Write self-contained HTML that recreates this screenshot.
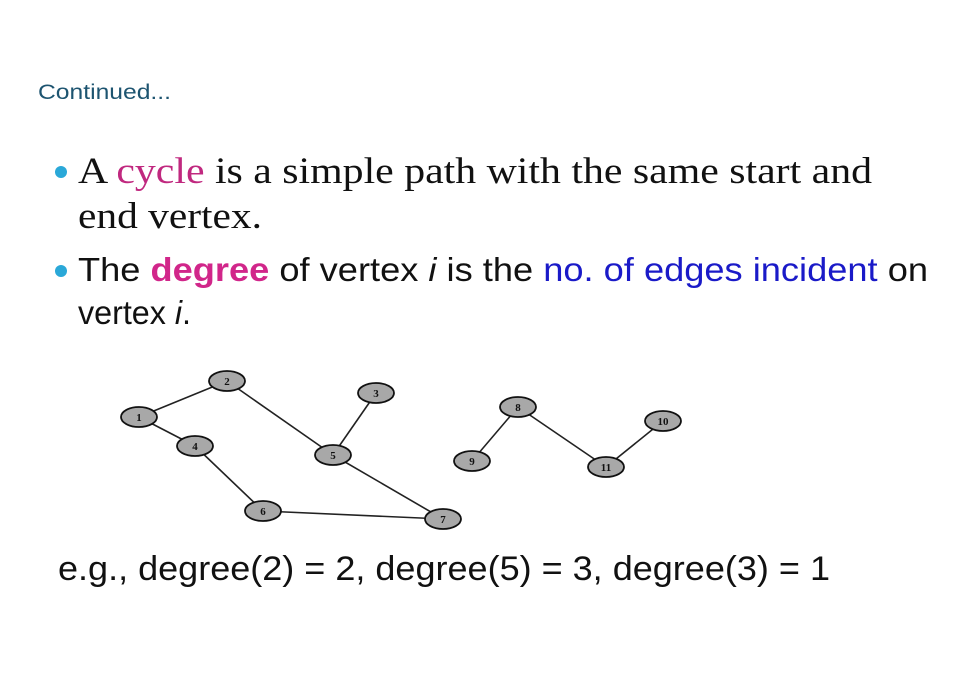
<!DOCTYPE html>
<html><head><meta charset="utf-8"><style>
html,body{margin:0;padding:0;background:#fff;}
svg{display:block}
</style></head><body>
<svg width="958" height="683" viewBox="0 0 958 683" xmlns="http://www.w3.org/2000/svg">
<rect width="958" height="683" fill="#fff"/>
<text x="38" y="99" font-family="Liberation Sans, sans-serif" font-size="21" fill="#1d5470" textLength="133" lengthAdjust="spacingAndGlyphs">Continued...</text>
<circle cx="61" cy="172" r="6" fill="#2aa8d8"/>
<circle cx="61" cy="271" r="6" fill="#2aa8d8"/>
<text x="78" y="183" font-family="Liberation Serif, serif" font-size="37" fill="#111" textLength="794" lengthAdjust="spacingAndGlyphs">A <tspan fill="#c0287f">cycle</tspan> is a simple path with the same start and</text>
<text x="78" y="228" font-family="Liberation Serif, serif" font-size="37" fill="#111" textLength="184" lengthAdjust="spacingAndGlyphs">end vertex.</text>
<text x="78" y="281" font-family="Liberation Sans, sans-serif" font-size="33" fill="#111" textLength="850" lengthAdjust="spacingAndGlyphs">The <tspan fill="#d1268a" font-weight="bold">degree</tspan> of vertex <tspan font-style="italic">i</tspan> is the <tspan fill="#1a1ac8">no. of edges incident</tspan> on</text>
<text x="78" y="324" font-family="Liberation Sans, sans-serif" font-size="33" fill="#111" textLength="113" lengthAdjust="spacingAndGlyphs">vertex <tspan font-style="italic">i</tspan>.</text>
<g stroke="#222" stroke-width="1.6">
<line x1="139" y1="417" x2="227" y2="381"/>
<line x1="139" y1="417" x2="195" y2="446"/>
<line x1="227" y1="381" x2="333" y2="455"/>
<line x1="376" y1="393" x2="333" y2="455"/>
<line x1="195" y1="446" x2="263" y2="511"/>
<line x1="333" y1="455" x2="443" y2="519"/>
<line x1="263" y1="511" x2="443" y2="519"/>
<line x1="518" y1="407" x2="472" y2="461"/>
<line x1="518" y1="407" x2="606" y2="467"/>
<line x1="663" y1="421" x2="606" y2="467"/>
</g>
<g fill="#a8a8a8" stroke="#111" stroke-width="1.8">
<ellipse cx="139" cy="417" rx="18" ry="10"/>
<ellipse cx="227" cy="381" rx="18" ry="10"/>
<ellipse cx="376" cy="393" rx="18" ry="10"/>
<ellipse cx="195" cy="446" rx="18" ry="10"/>
<ellipse cx="333" cy="455" rx="18" ry="10"/>
<ellipse cx="263" cy="511" rx="18" ry="10"/>
<ellipse cx="443" cy="519" rx="18" ry="10"/>
<ellipse cx="518" cy="407" rx="18" ry="10"/>
<ellipse cx="472" cy="461" rx="18" ry="10"/>
<ellipse cx="663" cy="421" rx="18" ry="10"/>
<ellipse cx="606" cy="467" rx="18" ry="10"/>
</g>
<g font-family="Liberation Serif, serif" font-size="11" font-weight="bold" fill="#111" text-anchor="middle">
<text x="139" y="421">1</text><text x="227" y="385">2</text><text x="376" y="397">3</text>
<text x="195" y="450">4</text><text x="333" y="459">5</text><text x="263" y="515">6</text>
<text x="443" y="523">7</text><text x="518" y="411">8</text><text x="472" y="465">9</text>
<text x="663" y="425">10</text><text x="606" y="471">11</text>
</g>
<text x="58" y="580" font-family="Liberation Sans, sans-serif" font-size="34" fill="#111" textLength="772" lengthAdjust="spacingAndGlyphs">e.g., degree(2) = 2, degree(5) = 3, degree(3) = 1</text>
</svg>
</body></html>
